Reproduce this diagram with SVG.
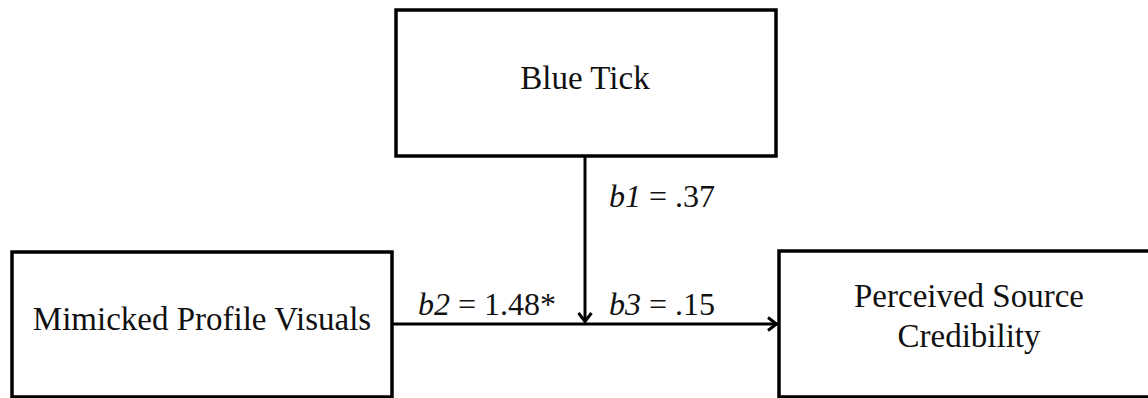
<svg xmlns="http://www.w3.org/2000/svg" width="1148" height="398" viewBox="0 0 1148 398">
<style>
.box{fill:#fff;stroke:#000;stroke-width:3.5}
.t{font-family:"Liberation Serif","Times New Roman",serif;font-size:33px;fill:#111}
.lbl{font-family:"Liberation Serif","Times New Roman",serif;font-size:32px;fill:#111}
.line{stroke:#000;stroke-width:3;fill:none}
</style>
<defs>
<marker id="arr" viewBox="0 0 12 16" refX="11" refY="8" markerWidth="12" markerHeight="16" markerUnits="userSpaceOnUse" orient="auto">
<path d="M2,1.5 L10.5,8 L2,14.5" fill="none" stroke="#000" stroke-width="3"/>
</marker>
</defs>
<rect width="1148" height="398" fill="#fff"/>
<g id="blue-tick">
<rect class="box" x="396" y="10" width="380" height="146"/>
<text class="t" x="585" y="89" text-anchor="middle">Blue Tick</text>
</g>
<g id="mimicked">
<rect class="box" x="12" y="252" width="380" height="145"/>
<text class="t" x="202" y="330" text-anchor="middle">Mimicked Profile Visuals</text>
</g>
<g id="perceived">
<rect class="box" x="779" y="251" width="380" height="146"/>
<text class="t" x="969" y="307" text-anchor="middle">Perceived Source</text>
<text class="t" x="969" y="347" text-anchor="middle">Credibility</text>
</g>
<g id="connectors">
<line class="line" x1="392" y1="324" x2="777" y2="324" marker-end="url(#arr)"/>
<line class="line" x1="585" y1="157" x2="585" y2="322" marker-end="url(#arr)"/>
</g>
<g id="labels">
<text class="lbl" x="609" y="207"><tspan font-style="italic">b1</tspan> = .37</text>
<text class="lbl" x="418" y="315"><tspan font-style="italic">b2</tspan> = 1.48*</text>
<text class="lbl" x="609" y="315"><tspan font-style="italic">b3</tspan> = .15</text>
</g>
</svg>
